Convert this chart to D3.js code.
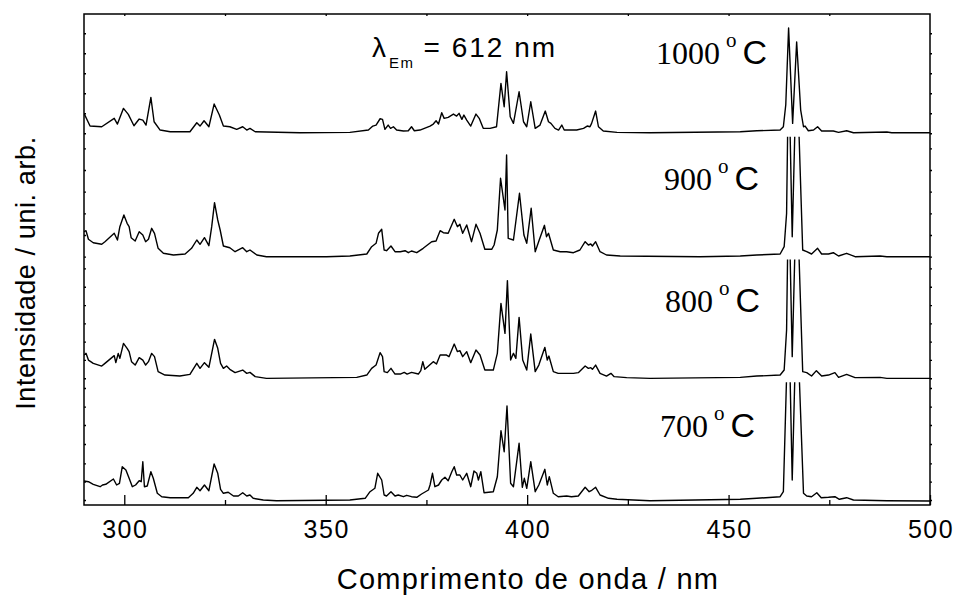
<!DOCTYPE html>
<html>
<head>
<meta charset="utf-8">
<script src="https://cdn.jsdelivr.net/npm/d3@7"></script>
<style>
  body { margin: 0; background: #fff; }
  svg { display: block; }
  .sans { font-family: "Liberation Sans", Arial, sans-serif; fill: #000; }
  .serif { font-family: "Liberation Serif", "Times New Roman", serif; fill: #000; }
  .spec { fill: none; stroke: #000; stroke-width: 1.4; stroke-linejoin: round; }
  .tick line { stroke: #000; stroke-width: 1.3; }
</style>
</head>
<body>
<svg id="chart"></svg>
<script>
// temperatures, top panel first
const temps = ["1000", "900", "800", "700"];

const xMajorTicks = [300, 350, 400, 450, 500];
const xMinorTicks = [325, 375, 425, 475];
const xTopTicks = [300, 325, 350, 375, 400, 425, 450, 475];

// [wavelength nm, intensity a.u.]
const spec1000 = [
  [290.0,23.4],[291.5,10.7],[294.4,10.0],[297.5,18.4],[298.3,12.7],[299.8,28.4],[301.0,22.4],[302.4,11.0],
  [303.7,17.7],[304.6,16.7],[305.4,11.7],[306.6,39.4],[307.4,15.0],[308.9,6.7],[311.4,5.0],[316.3,5.0],
  [318.0,14.0],[318.8,10.7],[319.8,16.0],[321.0,10.0],[322.3,32.7],[323.6,21.7],[324.6,10.7],[326.2,10.0],
  [327.9,7.4],[329.4,10.0],[330.4,6.7],[331.2,8.4],[332.5,5.0],[343.6,4.0],[356.0,4.4],[360.6,6.7],
  [361.7,10.7],[362.5,11.7],[363.5,18.0],[364.1,17.4],[364.7,7.4],[365.5,11.7],[366.1,8.4],[366.8,10.0],
  [367.6,6.7],[369.3,5.7],[370.5,6.0],[371.3,10.0],[372.0,6.0],[373.4,6.7],[375.9,10.7],[376.7,12.7],
  [377.4,16.0],[378.0,12.7],[378.8,24.0],[379.4,18.4],[380.4,19.4],[381.7,22.7],[382.5,20.7],[383.1,23.4],
  [383.8,17.4],[384.3,21.7],[385.0,16.7],[386.0,10.7],[387.3,22.7],[388.1,18.4],[389.1,8.4],[390.8,8.4],
  [392.4,10.0],[393.5,53.4],[394.3,30.0],[394.9,65.0],[395.8,20.0],[396.6,13.4],[398.0,45.0],[399.1,15.0],
  [399.9,10.0],[400.9,35.0],[402.0,8.4],[403.2,11.7],[404.5,25.7],[405.3,15.0],[405.9,13.4],[406.9,8.4],
  [407.8,6.7],[408.6,11.7],[409.2,6.7],[412.3,6.7],[414.0,8.4],[414.9,10.7],[415.6,10.0],[416.0,13.4],
  [417.0,25.7],[417.7,10.0],[418.9,5.7],[422.3,4.4],[430.5,4.0],[452.9,5.0],[457.0,6.0],[462.8,6.7],
  [463.6,10.0],[464.2,32.0],[464.9,108.7],[465.9,13.4],[466.9,94.7],[467.9,26.7],[468.6,10.0],[469.0,10.7],
  [469.8,6.0],[471.1,6.7],[472.1,10.0],[473.1,5.7],[476.0,5.7],[477.3,4.4],[479.3,6.0],[481.0,4.0],
  [489.3,4.7],[490.5,4.0],[500.0,4.0]
];

const spec900 = [
  [290.0,27.8],[290.5,28.8],[291.1,20.2],[292.3,16.8],[294.4,15.2],[295.2,17.8],[297.5,26.2],[298.3,19.5],
  [298.9,32.8],[299.9,44.5],[300.7,36.2],[301.2,32.8],[301.7,21.8],[302.7,18.5],[303.7,27.8],[304.6,24.5],
  [305.3,17.8],[306.0,20.2],[306.8,31.2],[307.5,26.2],[308.4,11.2],[309.7,6.2],[312.2,4.5],[315.1,5.5],
  [316.7,11.2],[318.0,19.5],[318.8,15.2],[319.9,21.8],[321.0,13.8],[321.7,32.8],[322.4,56.8],[323.2,39.5],
  [323.8,29.5],[324.6,13.5],[326.2,11.8],[327.5,7.8],[329.4,11.8],[330.4,7.8],[331.2,9.5],[332.9,4.5],
  [335.3,2.8],[350.2,2.8],[356.0,3.5],[360.2,5.5],[361.4,12.8],[362.5,16.2],[363.1,26.2],[363.9,30.2],
  [364.5,9.5],[365.1,8.8],[366.2,13.5],[367.2,7.8],[368.5,7.8],[369.7,8.8],[370.5,6.8],[371.3,8.5],
  [372.6,6.8],[374.2,11.2],[376.3,17.8],[377.4,18.5],[377.7,21.8],[378.4,28.8],[379.2,26.8],[380.4,26.2],
  [381.9,40.2],[382.7,32.8],[383.3,35.2],[384.0,26.2],[385.0,34.5],[386.2,17.8],[387.3,35.2],[388.3,26.2],
  [389.5,10.2],[391.2,10.2],[391.8,14.5],[392.6,29.5],[393.4,81.2],[394.5,49.5],[394.9,104.5],[395.3,21.2],
  [396.6,19.5],[398.1,66.2],[399.2,24.5],[399.9,16.2],[401.0,51.2],[402.0,7.8],[403.0,19.5],[404.3,34.2],
  [404.8,22.8],[405.3,26.2],[406.5,9.5],[408.2,7.8],[409.8,7.8],[411.5,6.8],[413.1,9.5],[414.4,17.8],
  [415.2,14.5],[415.8,15.5],[416.2,13.5],[417.0,17.8],[418.1,7.8],[419.7,4.5],[423.1,3.5],[442.9,2.8],
  [452.9,3.5],[457.0,4.5],[462.8,5.5],[463.8,12.8],[464.4,46.0],[464.9,200],[465.8,22.8],[466.9,200],
  [468.4,9.5],[469.4,7.8],[470.6,5.5],[472.1,11.2],[473.1,5.5],[474.8,5.5],[476.0,6.8],[477.3,3.5],
  [479.3,6.2],[481.4,2.8],[487.6,3.5],[489.3,2.8],[500.0,2.8]
];

const spec800 = [
  [290.0,27.2],[290.5,28.9],[291.1,22.2],[292.3,18.9],[294.4,16.2],[295.2,18.9],[297.5,26.6],[297.9,19.6],
  [298.5,28.9],[298.9,23.9],[299.8,38.9],[300.7,33.9],[301.2,30.6],[301.8,20.6],[302.7,17.2],[303.7,24.6],
  [304.6,22.2],[305.3,17.2],[306.0,20.6],[306.8,28.9],[307.5,25.6],[308.4,10.6],[310.1,7.2],[313.8,6.2],
  [316.3,7.9],[318.0,18.9],[318.8,13.9],[319.9,19.6],[321.0,14.9],[322.4,42.9],[323.2,33.9],[323.9,18.9],
  [324.6,13.9],[325.4,16.2],[326.2,12.9],[327.5,9.6],[329.4,12.2],[330.4,8.9],[331.2,9.9],[332.5,5.6],
  [335.3,3.9],[357.7,4.9],[360.2,7.2],[361.4,13.9],[362.5,17.2],[363.5,29.6],[364.1,25.6],[364.5,10.6],
  [365.3,9.6],[366.2,13.9],[367.2,8.2],[368.5,8.2],[369.5,9.9],[370.2,8.2],[371.3,9.9],[373.0,8.2],
  [373.6,11.6],[374.1,20.6],[374.6,12.9],[376.7,20.6],[377.5,18.2],[378.4,27.2],[380.0,27.2],[380.6,25.6],
  [381.9,38.2],[382.7,30.6],[383.3,31.6],[384.0,25.6],[385.0,30.6],[386.0,19.6],[387.3,32.2],[388.3,27.2],
  [389.5,12.2],[391.6,12.2],[392.6,28.9],[393.5,78.9],[394.5,48.9],[395.1,101.6],[395.9,22.2],[396.6,28.9],
  [397.2,23.9],[398.0,64.9],[398.9,22.2],[399.9,12.2],[400.9,48.2],[402.0,10.6],[402.9,17.2],[404.4,34.9],
  [405.0,22.2],[405.4,26.2],[406.5,10.6],[407.7,8.9],[409.8,8.9],[411.5,8.9],[412.7,9.6],[414.4,16.2],
  [415.2,13.9],[415.8,14.6],[416.2,12.9],[417.0,17.2],[418.1,8.9],[419.7,6.2],[420.8,8.9],[421.6,5.6],
  [424.7,4.6],[430.5,3.9],[452.9,4.9],[457.0,6.2],[462.8,7.2],[463.8,12.2],[464.4,52.2],[464.9,200],
  [465.8,25.6],[466.9,200],[468.4,10.6],[469.4,9.6],[470.6,6.2],[471.8,11.6],[473.1,6.2],[474.8,7.2],
  [476.4,9.6],[477.3,4.9],[479.3,7.9],[481.4,4.6],[487.6,4.9],[489.3,3.9],[500.0,3.9]
];

const spec700 = [
  [290.0,24.0],[291.1,23.3],[292.3,20.7],[294.0,18.3],[294.6,20.0],[295.4,20.7],[297.3,26.0],[298.1,20.0],
  [298.8,21.7],[299.5,38.3],[300.4,35.0],[301.2,26.7],[302.0,18.3],[302.8,20.0],[303.7,24.3],[304.2,23.3],
  [304.6,43.3],[305.0,18.3],[305.7,19.0],[306.6,33.3],[307.2,26.7],[308.2,11.7],[309.3,8.3],[311.4,7.3],
  [315.9,7.3],[317.1,11.7],[318.0,17.7],[318.8,14.3],[319.9,20.0],[321.0,14.3],[322.3,41.0],[323.2,31.7],
  [323.9,15.7],[324.6,11.7],[325.8,12.7],[327.1,9.0],[328.3,9.0],[329.4,12.3],[330.4,9.0],[331.2,10.0],
  [332.0,6.7],[334.5,5.0],[337.8,4.3],[356.0,5.0],[359.8,6.7],[361.0,13.3],[362.2,16.7],[362.9,31.7],
  [363.9,25.0],[364.5,10.0],[365.1,9.0],[366.2,13.3],[367.2,9.0],[368.0,10.0],[369.3,8.3],[370.1,9.7],
  [371.3,8.3],[372.6,7.7],[373.8,11.0],[375.5,15.0],[375.9,20.0],[376.5,31.7],[377.1,18.3],[378.0,20.0],
  [378.8,25.0],[379.6,27.7],[380.4,24.3],[381.3,33.3],[381.9,38.3],[382.5,30.0],[383.3,30.0],[384.0,25.0],
  [385.0,31.7],[386.0,18.3],[386.8,34.0],[387.5,31.7],[387.9,25.0],[388.5,33.3],[389.3,12.3],[391.6,13.3],
  [392.6,28.3],[393.5,74.3],[394.3,53.3],[395.0,99.0],[395.9,21.7],[396.6,18.3],[398.0,61.7],[398.8,17.7],
  [399.3,26.7],[399.9,16.7],[400.9,43.3],[402.0,13.3],[402.9,20.0],[404.4,35.7],[405.0,20.0],[405.5,28.3],
  [406.5,11.7],[407.7,8.3],[409.8,9.0],[411.0,8.3],[412.7,9.0],[414.4,17.7],[415.4,13.3],[415.9,14.3],
  [417.0,17.7],[418.1,10.0],[420.2,6.7],[422.3,5.7],[426.4,5.0],[430.5,4.3],[452.9,5.7],[457.0,6.7],
  [462.8,8.3],[463.6,13.3],[464.9,200],[465.8,25.0],[466.9,200],[468.6,11.7],[469.4,9.0],[470.6,8.3],
  [471.9,12.3],[473.0,7.3],[474.8,7.7],[476.4,8.3],[477.5,5.7],[479.3,7.3],[481.0,5.0],[489.3,4.3],
  [500.0,4.0]
];

// left/right minor ticks of each stacked panel (a.u.)
const yTicks1000 = [3.5, 23.5, 43.5, 63.5, 83.5, 103.5];
const yTicks900  = [2.8, 24.5, 46.2, 67.8, 89.5, 111.2];
const yTicks800  = [4.0, 22.3, 40.6, 58.9, 77.2, 95.5, 113.9];
const yTicks700  = [5.0, 23.3, 41.7, 61.0, 80.0, 98.3, 117.0];

const spectra = [spec1000, spec900, spec800, spec700];
const yTicks = [yTicks1000, yTicks900, yTicks800, yTicks700];

(function () {
  const totalW = 955, totalH = 595;
  const mg = { top: 14, right: 25, bottom: 90, left: 84 };
  const W = totalW - mg.left - mg.right;
  const H = totalH - mg.top - mg.bottom;
  const panelMax = 122.75;

  const svg = d3.select("#chart").attr("width", totalW).attr("height", totalH);
  const defs = svg.append("defs");
  const g = svg.append("g").attr("transform", `translate(${mg.left},${mg.top})`);

  const x = d3.scaleLinear().domain([290, 500]).range([0, W]);
  const band = d3.scaleBand().domain(temps).range([0, H]);
  const noDomain = (sel) => sel.select(".domain").remove();

  // label nudges so the temperature texts sit like the original
  const labelDx = [-6, 2, 3, -2];
  const labelDy = [50, 53, 52.5, 54.5];

  temps.forEach((t, i) => {
    const top = band(t), h = band.bandwidth();
    const y = d3.scaleLinear().domain([0, panelMax]).range([top + h, top]);

    defs.append("clipPath").attr("id", `clip-${t}`)
      .append("rect").attr("x", 0).attr("y", top).attr("width", W).attr("height", h);

    const line = d3.line().x((d) => x(d[0])).y((d) => y(d[1]));
    g.append("path").datum(spectra[i])
      .attr("class", "spec")
      .attr("clip-path", `url(#clip-${t})`)
      .attr("d", line);

    g.append("g")
      .call(d3.axisRight(y).tickValues(yTicks[i]).tickSize(2).tickFormat(""))
      .call(noDomain);
    g.append("g").attr("transform", `translate(${W},0)`)
      .call(d3.axisRight(y).tickValues(yTicks[i]).tickSize(2).tickFormat(""))
      .call(noDomain);

    const lab = g.append("text").attr("class", "serif")
      .attr("x", x(433.5) + labelDx[i]).attr("y", top + labelDy[i]);
    lab.append("tspan").attr("font-size", 32).text(t);
    lab.append("tspan").attr("font-size", 21).attr("dx", 6).attr("dy", -17).text("o");
    lab.append("tspan").attr("class", "sans").attr("font-size", 34)
      .attr("dx", 6).attr("dy", 17).text("C");
  });

  // bottom axis: ticks point inward
  g.append("g").attr("transform", `translate(0,${H})`)
    .call(d3.axisTop(x).tickValues(xMajorTicks).tickSize(10).tickFormat(""))
    .call(noDomain);
  g.append("g").attr("transform", `translate(0,${H})`)
    .call(d3.axisTop(x).tickValues(xMinorTicks).tickSize(5).tickFormat(""))
    .call(noDomain);
  g.append("g")
    .call(d3.axisBottom(x).tickValues(xTopTicks).tickSize(2).tickFormat(""))
    .call(noDomain);

  g.append("rect").attr("x", 0).attr("y", 0).attr("width", W).attr("height", H)
    .attr("fill", "none").attr("stroke", "#000").attr("stroke-width", 1.5);

  g.selectAll(".xlab").data(xMajorTicks).join("text")
    .attr("class", "xlab sans")
    .attr("x", (d) => x(d) + 1).attr("y", H + 33)
    .attr("text-anchor", "middle")
    .attr("font-size", 25).attr("letter-spacing", 1.5)
    .text((d) => d);

  g.append("text").attr("class", "sans")
    .attr("x", 444).attr("y", H + 84)
    .attr("text-anchor", "middle")
    .attr("font-size", 29).attr("letter-spacing", 1.3)
    .text("Comprimento de onda / nm");

  svg.append("text").attr("class", "sans")
    .attr("transform", `translate(35,${mg.top + 259}) rotate(-90)`)
    .attr("text-anchor", "middle")
    .attr("font-size", 27).attr("letter-spacing", 0.6)
    .text("Intensidade / uni. arb.");

  const em = g.append("text").attr("class", "sans").attr("x", x(361.5)).attr("y", 43);
  em.append("tspan").attr("font-size", 28).text("λ");
  em.append("tspan").attr("font-size", 15).attr("dx", 3).attr("dy", 11)
    .attr("letter-spacing", 1.5).text("Em");
  em.append("tspan").attr("font-size", 28).attr("dx", 9).attr("dy", -11)
    .attr("letter-spacing", 2).text("= 612 nm");
})();
</script>
</body>
</html>
